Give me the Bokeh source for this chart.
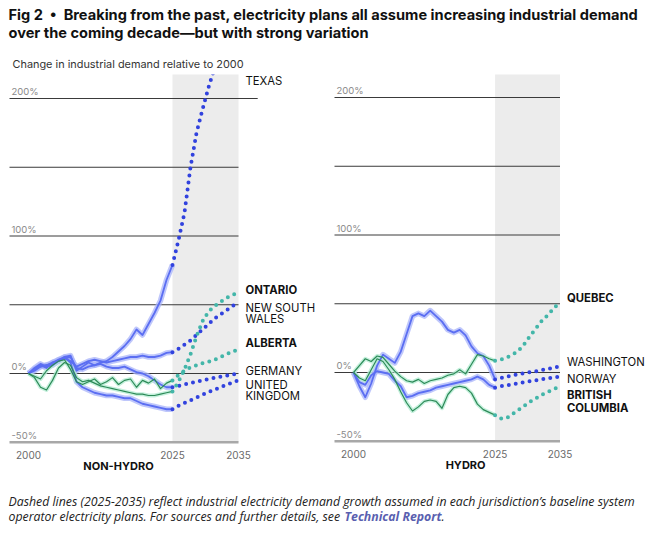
from bokeh.plotting import figure
from bokeh.layouts import column, row
from bokeh.models import Range1d
from bokeh.embed import file_html
from bokeh.resources import INLINE
from bokeh.core.properties import value

# ---------------- data ----------------
hist_years = list(range(2000, 2025))
proj_years = list(range(2024, 2036))
x_tick_years = [2000, 2024, 2035]
x_tick_labels = ["2000", "2025", "2035"]
y_tick_values = [200, 100, 0, -50]
y_tick_labels = ["200%", "100%", "0%", "-50%"]
grid_values = [-50, 0, 50, 100, 150, 200]

# Non-hydro jurisdictions (% change vs 2000)
texas_hist = [0, 2, 5, 6, 8, 9, 11, 12, 4, 3, 5, 6, 8, 9, 12, 16, 20, 25, 32, 28, 36, 44, 53, 68, 79]
texas_proj = [79, 97, 117, 150, 175, 192, 208, 222, 238, 254, 270, 285]
nsw_hist = [0, 3, 6, 4, 8, 10, 11, 9, 5, 7, 9, 10, 9, 8, 9, 10, 11, 12, 12, 13, 12, 12, 13, 15, 15.5]
nsw_proj = [15.5, 18, 21, 24, 28, 32, 36, 40, 43, 46, 49, 52]
germany_hist = [0, 4, 7, 5, 6, 9, 12, 13, 2, 5, 8, 6, 7, 5, 4, 4, 5, 3, 1, 0, -2, -5, -8, -10, -10]
germany_proj = [-10, -9, -8, -7, -6, -5, -4, -3.2, -2.4, -1.6, -0.8, 0]
uk_hist = [0, 3, 5, 6, 7, 10, 12, 8, -6, -10, -12, -14, -15, -16, -16, -17, -18, -18, -20, -22, -23, -24, -25, -26, -26]
uk_proj = [-26, -23.5, -21.5, -19.5, -17.5, -15.5, -13.5, -11.8, -10, -8.3, -6.6, -5]
ontario_hist = [0, -3, -10, -12, -5, 4, 8, 6, -3, -6, -5, -7, -9, -10, -11, -12, -13, -14, -15, -15, -16, -16, -15, -14, -13]
ontario_proj = [-13, -6, 3, 14, 27, 38, 45, 49, 52, 55, 57, 59]
alberta_hist = [0, -2, -4, 2, 6, 9, 10, 3, -6, -8, -6, -4, -8, -6, -3, -8, -5, -4, -10, -5, -7, -4, -11, -7, -5]
alberta_proj = [-5, -1, 2, 4.5, 6, 7.5, 8.5, 10, 12, 14, 16, 17.5]

# Hydro jurisdictions
washington_hist = [0, -10, -18, -8, 5, 13, 10, 7, 15, 28, 41, 43, 41, 45, 41, 37, 31, 29, 31, 27, 19, 14, 12, 5, -5]
washington_proj = [-5, -4, -3, -2, -1.3, -0.5, 0.3, 1, 1.8, 2.6, 3.5, 4.4]
norway_hist = [0, -7, -9, -2, 1, 0, -1, -6, -10, -18, -17, -15, -14, -13, -11, -10, -9, -8, -7, -6, -5, -3, -5, -9, -11]
norway_proj = [-11, -10, -9.3, -8.5, -7.8, -7, -6.3, -5.6, -4.9, -4.2, -3.6, -3]
quebec_hist = [0, 5, 10, 8, 12, 11, 6, 1, -3, -6, -7, -5, -8, -6, -5, -4, -2, -1, 2, -1, 6, 13, 12, 10, 8.5]
quebec_proj = [8.5, 9.5, 11, 13, 16, 21, 27, 32.5, 38, 42, 47, 51]
bc_hist = [0, -4, -6, 2, 10, 8, 2, -5, -14, -22, -28, -25, -21, -20, -21, -26, -16, -11, -10, -11, -15, -23, -27, -29, -31]
bc_proj = [-31, -33.5, -33, -30, -27, -24, -21, -18.5, -16, -14, -12, -10]

# ---------------- style ----------------
FONT = "Inter"
BLUE_CORE, BLUE_HALO, BLUE_DOT = "#5b6ef2", "#a9b4fa", "#3142de"
GREEN_CORE, GREEN_HALO, TEAL_DOT = "#2d8a58", "#b5ecd3", "#43b6a9"
PX_PER_PCT = 1.375
PANEL_H = 401


def base_fig(w, h, xr, yr):
    p = figure(width=w, height=h, x_range=xr, y_range=yr, output_backend="svg",
               toolbar_location=None, min_border=0, x_axis_type=None, y_axis_type=None)
    p.outline_line_color = None
    p.background_fill_color = "white"
    p.border_fill_color = "white"
    return p


def panel(width, px2000, px_per_year, zero_px, series, labels, name, name_year, top_grid_ext):
    x0 = 2000 - px2000 / px_per_year
    ytop = zero_px / PX_PER_PCT
    p = base_fig(width, PANEL_H, Range1d(x0, x0 + width / px_per_year),
                 Range1d(ytop - PANEL_H / PX_PER_PCT, ytop))
    # shaded projection period
    p.quad(left=[proj_years[0]], right=[proj_years[-1]], bottom=[grid_values[0]], top=[ytop + 5],
           fill_color="#ececec", line_color=None)
    # gridlines
    gx0 = x0 + 9 / px_per_year
    for g in grid_values:
        xe = proj_years[-1] + (top_grid_ext if g == grid_values[-1] else 0)
        if g == grid_values[0]:
            p.line([gx0, xe], [g, g], line_color="#a8a8a8", line_width=2.5)
        else:
            p.line([gx0, xe], [g, g], line_color="#3a3a3a", line_width=1)
    # y tick labels
    p.text(x=[gx0 + 2 / px_per_year] * len(y_tick_values), y=[v + 0.8 for v in y_tick_values],
           text=y_tick_labels, text_font=value(FONT), text_font_size="9.5px", text_color="#8a8a8a",
           text_baseline="bottom", text_align="left")
    # x tick labels
    p.text(x=x_tick_years, y=[-59.5] * 3, text=x_tick_labels, text_font=value(FONT),
           text_font_size="10px", text_color="#6a6a6a", text_baseline="middle", text_align="center")
    p.text(x=[name_year], y=[-67.5], text=[name], text_font=value(FONT), text_font_size="11px",
           text_font_style="bold", text_color="#111111", text_baseline="middle", text_align="center")
    # historical lines (halo + core)
    for hist, proj, kind in series:
        if kind == "blue":
            p.line(hist_years, hist, line_color=BLUE_HALO, line_width=5.5, line_alpha=0.75, line_join="round")
        else:
            p.line(hist_years, hist, line_color=GREEN_HALO, line_width=4, line_alpha=0.8, line_join="round")
    for hist, proj, kind in series:
        if kind == "blue":
            p.line(hist_years, hist, line_color=BLUE_CORE, line_width=1.8, line_join="round")
        else:
            p.line(hist_years, hist, line_color=GREEN_CORE, line_width=1.2, line_join="round")
    # projection dots
    for hist, proj, kind in series:
        col = BLUE_DOT if kind == "blue" else TEAL_DOT
        p.line(proj_years, proj, line_color=col, line_width=4, line_dash="0 7", line_cap="round")
    # end labels
    lx = proj_years[-1] + 7 / px_per_year
    for lines, ys, bold in labels:
        p.text(x=[lx] * len(lines), y=ys, text=lines, text_font=value(FONT), text_font_size="11.3px",
               text_font_style="bold" if bold else "normal", text_color="#111111",
               text_baseline="middle", text_align="left")
    return p


left_series = [
    (texas_hist, texas_proj, "blue"),
    (nsw_hist, nsw_proj, "blue"),
    (germany_hist, germany_proj, "blue"),
    (uk_hist, uk_proj, "blue"),
    (ontario_hist, ontario_proj, "green"),
    (alberta_hist, alberta_proj, "green"),
]
left_labels = [
    (["TEXAS"], [213], False),
    (["ONTARIO"], [61], True),
    (["NEW SOUTH", "WALES"], [48, 39.3], False),
    (["ALBERTA"], [22.5], True),
    (["GERMANY"], [2], False),
    (["UNITED", "KINGDOM"], [-8.7, -16.7], False),
]
right_series = [
    (washington_hist, washington_proj, "blue"),
    (norway_hist, norway_proj, "blue"),
    (quebec_hist, quebec_proj, "green"),
    (bc_hist, bc_proj, "green"),
]
right_labels = [
    (["QUEBEC"], [54], True),
    (["WASHINGTON"], [7.3], False),
    (["NORWAY"], [-4.4], False),
    (["BRITISH", "COLUMBIA"], [-16, -25.5], True),
]

left = panel(325, 28, 6.0, 299, left_series, left_labels, "NON-HYDRO", 2015, 3.2)
right = panel(330, 28, 5.9, 298, right_series, right_labels, "HYDRO", 2019, 0)

# title block
NB = "\u00a0"
head = base_fig(655, 74, Range1d(0, 655), Range1d(74, 0))
head.text(x=[8, 8], y=[14, 32],
          text=["Fig 2" + NB * 2 + "\u2022" + NB * 2 + "Breaking from the past, electricity plans all assume increasing industrial demand",
                "over the coming decade\u2014but with strong variation"],
          text_font=value("Inter"), text_font_style="bold", text_font_size="14.6px",
          text_color="#111111", text_baseline="middle", text_align="left")
head.text(x=[12], y=[63], text=["Change in industrial demand relative to 2000"], text_font=value(FONT),
          text_font_size="10.9px", text_color="#333333", text_baseline="middle", text_align="left")

# footnote block
FS = "12.3px"
foot = base_fig(655, 61, Range1d(0, 655), Range1d(61, 0))
foot.text(x=[8, 8], y=[26, 41],
          text=["Dashed lines (2025-2035) reflect industrial electricity demand growth assumed in each jurisdiction\u2019s baseline system",
                "operator electricity plans. For sources and further details, see"],
          text_font=value("Open Sans"), text_font_style="italic", text_font_size=FS,
          text_color="#222222", text_baseline="middle", text_align="left")
foot.text(x=[344], y=[41], text=["Technical Report"], text_font=value("Open Sans"),
          text_font_style="bold italic", text_font_size=FS, text_color="#5a5fb0",
          text_baseline="middle", text_align="left")
foot.text(x=[441], y=[41], text=["."], text_font=value("Open Sans"), text_font_style="italic",
          text_font_size=FS, text_color="#222222", text_baseline="middle", text_align="left")

layout = column(head, row(left, right), foot)
open("out.html", "w").write(file_html(layout, INLINE))
